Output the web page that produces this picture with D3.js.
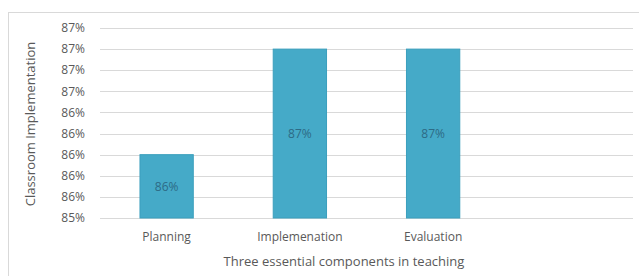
<!DOCTYPE html>
<html>
<head>
<meta charset="utf-8">
<script src="https://cdn.jsdelivr.net/npm/d3@7"></script>
<style>
  body { margin: 0; background: #fff; }
  text { font-family: "Open Sans", sans-serif; fill: #595959; }
</style>
</head>
<body>
<div id="chart"></div>
<script>
var width = 639;
var height = 276;

// data
var categories = ['Planning', 'Implemenation', 'Evaluation', ''];
var values = [0.8575, 0.87, 0.87, null];
var barLabels = ['86%', '87%', '87%', ''];
var tickValues = [0.85, 0.8525, 0.855, 0.8575, 0.86, 0.8625, 0.865, 0.8675, 0.87, 0.8725];
var tickLabels = ['85%', '86%', '86%', '86%', '86%', '86%', '87%', '87%', '87%', '87%'];

var margin = {left: 100, right: 6, top: 28, bottom: 58};

var svg = d3.select('#chart').append('svg')
  .attr('width', width)
  .attr('height', height);

// chart frame
svg.append('rect')
  .attr('x', 8.5).attr('y', 12.5)
  .attr('width', width + 10).attr('height', height + 10)
  .attr('fill', 'none')
  .attr('stroke', '#d9d9d9');

var xScale = d3.scaleBand()
  .domain(categories)
  .range([margin.left, width - margin.right])
  .paddingInner(0.6)
  .paddingOuter(0.3);

var yScale = d3.scaleLinear()
  .domain([0.85, 0.8725])
  .range([height - margin.bottom, margin.top]);

// gridlines
svg.selectAll('.grid')
  .data(tickValues)
  .enter().append('line').classed('grid', true)
  .attr('x1', margin.left)
  .attr('x2', width - margin.right)
  .attr('y1', function(d) { return Math.round(yScale(d)) + 0.5; })
  .attr('y2', function(d) { return Math.round(yScale(d)) + 0.5; })
  .attr('stroke', '#d9d9d9')
  .attr('stroke-width', 1);

// y tick labels
svg.selectAll('.ytick')
  .data(tickValues)
  .enter().append('text').classed('ytick', true)
  .attr('x', 85)
  .attr('y', function(d) { return yScale(d); })
  .attr('dy', '0.35em')
  .attr('text-anchor', 'end')
  .style('font-size', '12px')
  .text(function(d, i) { return tickLabels[i]; });

var data = categories.map(function(c, i) { return {cat: c, value: values[i], label: barLabels[i]}; })
  .filter(function(d) { return d.value != null; });

svg.selectAll('.bar')
  .data(data)
  .enter().append('rect').classed('bar', true)
  .attr('x', function(d) { return xScale(d.cat); })
  .attr('y', function(d) { return yScale(d.value); })
  .attr('width', xScale.bandwidth())
  .attr('height', function(d) { return yScale(0.85) - yScale(d.value); })
  .attr('fill', '#45aac8')
  .attr('stroke', '#3b9fbd')
  .attr('stroke-width', 1);

// data labels in the middle of each bar
svg.selectAll('.blabel')
  .data(data)
  .enter().append('text').classed('blabel', true)
  .attr('x', function(d) { return xScale(d.cat) + xScale.bandwidth() / 2; })
  .attr('y', function(d) { return (yScale(d.value) + yScale(0.85)) / 2; })
  .attr('dy', '0.35em')
  .attr('text-anchor', 'middle')
  .style('font-size', '12px')
  .style('fill', '#2d6b86')
  .text(function(d) { return d.label; });

// category labels
svg.selectAll('.xtick')
  .data(categories)
  .enter().append('text').classed('xtick', true)
  .attr('x', function(d) { return xScale(d) + xScale.bandwidth() / 2; })
  .attr('y', 241)
  .attr('text-anchor', 'middle')
  .style('font-size', '12px')
  .text(function(d) { return d; });

// axis titles
svg.append('text')
  .attr('x', 344)
  .attr('y', 266)
  .attr('text-anchor', 'middle')
  .style('font-size', '13px')
  .text('Three essential components in teaching');

svg.append('text')
  .attr('transform', 'translate(35,' + 124 + ') rotate(-90)')
  .attr('text-anchor', 'middle')
  .style('font-size', '13px')
  .text('Classroom Implementation');
</script>
</body>
</html>
